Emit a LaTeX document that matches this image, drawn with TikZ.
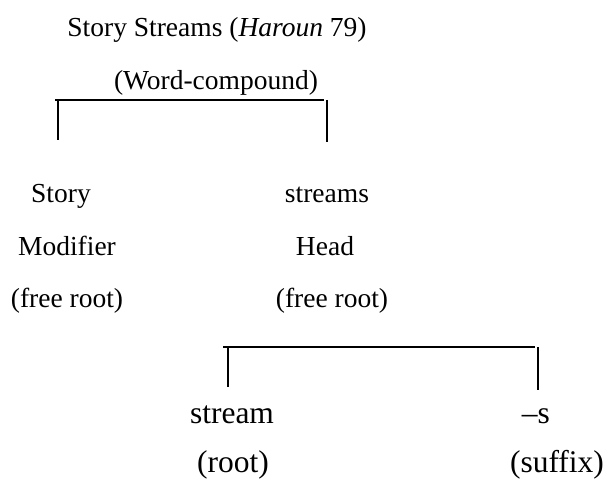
\documentclass[tikz,border=0pt]{standalone}
\usepackage{fontspec}
\setmainfont{Liberation Serif}
\begin{document}
\begin{tikzpicture}[
        x=1pt, y=-1pt,
        every node/.style={anchor=base, inner sep=0pt, font=\fontsize{27.5}{33}\selectfont},
        big/.style={font=\fontsize{31.5}{38}\selectfont},
        ar/.style={-, line width=1.5pt},
    ]
    \useasboundingbox (0,0) rectangle (606,484);

    \node[](title) at (217,37) {Story Streams (\textit{Haroun} 79)};
    \node[](wc) at (216,90) {(Word-compound)};

    \node[](story) at (61,203) {Story};
    \node[](mod) at (67,256) {Modifier};
    \node[](freel) at (67,308) {(free root)};
    \node[](streams) at (327,203) {streams};
    \node[](head) at (325,256) {Head};
    \node[](freer) at (332,308) {(free root)};

    \node[big](stream) at (232,423) {stream};
    \node[big](root) at (233,472) {(root)};
    \node[big](suf) at (536,423) {--s};
    \node[big](suffix) at (557,472) {(suffix)};

    \coordinate (tl) at (55,100);
    \coordinate (tr) at (324,100);
    \coordinate (sl) at (58,140);
    \coordinate (sr) at (327,142);
    \coordinate (bl) at (223,347);
    \coordinate (br) at (535,347);
    \coordinate (ml) at (228,387);
    \coordinate (mr) at (538,390);

    \draw[ar] (tl) -- (tr);
    \draw[ar] (tl -| sl) -- (sl);
    \draw[ar] (tr -| sr) -- (sr);
    \draw[ar] (bl) -- (br);
    \draw[ar] (bl -| ml) -- (ml);
    \draw[ar] (br -| mr) -- (mr);

\end{tikzpicture}
\end{document}
